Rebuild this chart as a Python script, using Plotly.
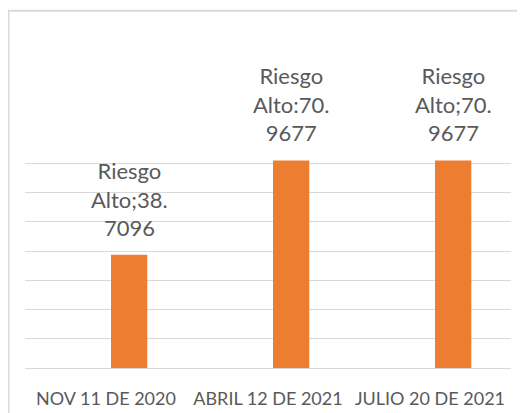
import plotly.graph_objects as go

categories = ["NOV 11 DE 2020", "ABRIL 12 DE 2021", "JULIO 20 DE 2021"]
values = [38.7096, 70.9677, 70.9677]
labels = ["Riesgo<br>Alto;38.<br>7096", "Riesgo<br>Alto:70.<br>9677", "Riesgo<br>Alto;70.<br>9677"]

FONT = "Lato"
TXT = "#595959"
BAR_W = 0.224
BAR_OFF = 0.031   # bar sits right of the category centre (clustered slot)
CAT_PX = 162

fig = go.Figure()
fig.add_trace(go.Bar(
    x=categories, y=values, width=BAR_W, offset=BAR_OFF,
    marker=dict(color="#ED7D31", line=dict(width=0)),
    hoverinfo="skip",
))

for c, v, t in zip(categories, values, labels):
    fig.add_annotation(x=c, y=v, text=t, showarrow=False, yanchor="bottom",
                       xshift=(BAR_OFF + BAR_W / 2) * CAT_PX, yshift=12,
                       font=dict(family=FONT, size=22, color=TXT))

# outer chart border (top and left visible; right/bottom fall outside the view)
fig.add_shape(type="rect", xref="paper", yref="paper",
              x0=-0.034, x1=1.3, y0=-0.6, y1=1.527,
              line=dict(color="#D9D9D9", width=2), fillcolor="rgba(0,0,0,0)", layer="below")

fig.update_layout(
    width=525, height=413,
    margin=dict(l=17, r=22, t=126, b=53, autoexpand=False),
    paper_bgcolor="white", plot_bgcolor="white",
    showlegend=False,
    font=dict(family=FONT, color=TXT),
    xaxis=dict(type="category", range=[-0.5, 2.5], showgrid=False, showline=False,
               automargin=False,
               ticks="outside", ticklen=14, tickcolor="rgba(0,0,0,0)",
               tickfont=dict(family=FONT, size=18, color=TXT), zeroline=False),
    yaxis=dict(range=[0, 80], dtick=10, showgrid=True, gridcolor="#D9D9D9", gridwidth=1,
               automargin=False,
               zeroline=True, zerolinecolor="#D9D9D9", zerolinewidth=1,
               showticklabels=False, ticks="", showline=False),
)

fig.write_html("out.html")
